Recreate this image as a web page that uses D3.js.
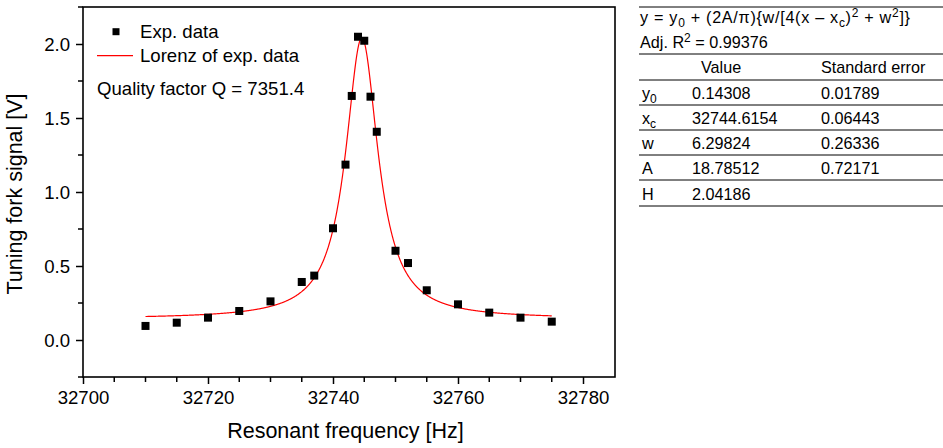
<!DOCTYPE html>
<html><head><meta charset="utf-8">
<script src="https://cdn.jsdelivr.net/npm/d3@7"></script>
<style>
body{margin:0;background:#fff;}
svg{display:block;font-family:"Liberation Sans",Arial,sans-serif;}
</style></head>
<body>
<svg id="chart" width="943" height="448"></svg>
<script>
// ---- data ----
const freq = [32710,32715,32720,32725,32730,32735,32737,32740,32742,32743,32744,32745,32746,32747,32750,32752,32755,32760,32765,32770,32775];
const signal = [0.095,0.117,0.151,0.196,0.261,0.392,0.435,0.755,1.185,1.649,2.049,2.022,1.644,1.407,0.603,0.520,0.336,0.241,0.185,0.151,0.124];
// fit parameters as printed in the table
const paramNames = ["y0","xc","w","A","H"];
const paramValues = ["0.14308","32744.6154","6.29824","18.78512","2.04186"];
const paramErrors = ["0.01789","0.06443","0.26336","0.72171",""];
const fitY0 = 0.14308, fitXc = 32744.6154, fitW = 6.29824, fitA = 18.78512;
const fitRange = [32710, 32775];
const xTicks = [32700,32720,32740,32760,32780];
const yTicks = [0.0,0.5,1.0,1.5,2.0];

const FONT = "Liberation Sans, Arial, sans-serif";
const svg = d3.select("#chart");
const L=83, R=615, T=7, B=377;
const x = d3.scaleLinear().domain([32700, 32785.12]).range([L,R]);
const y = d3.scaleLinear().domain([-0.25, 2.25]).range([B,T]);

// minor ticks
const xMinor = d3.range(32700, 32785, 5).filter(v => v%20!==0);
const yMinor = d3.range(-0.25, 2.26, 0.25).filter(v => Math.abs(v*2 - Math.round(v*2))>1e-6);

const gx = svg.append("g").attr("transform",`translate(0,${B})`);
gx.call(d3.axisBottom(x).tickValues(xTicks).tickFormat(d3.format("d")).tickSize(7).tickSizeOuter(0))
gx.select(".domain").remove();
gx.selectAll(".tick line").attr("stroke","#000").attr("stroke-width",1.5);
gx.selectAll(".tick text").attr("font-size",18.6).attr("fill","#000").attr("y",27).attr("dy",0).attr("font-family",FONT);
gx.selectAll(".minor").data(xMinor).enter().append("line")
  .attr("x1",d=>x(d)).attr("x2",d=>x(d)).attr("y1",0).attr("y2",5).attr("stroke","#000").attr("stroke-width",1.5);

const gy = svg.append("g").attr("transform",`translate(${L},0)`);
gy.call(d3.axisLeft(y).tickValues(yTicks).tickFormat(d3.format(".1f")).tickSize(7).tickSizeOuter(0));
gy.select(".domain").remove();
gy.selectAll(".tick line").attr("stroke","#000").attr("stroke-width",1.5);
gy.selectAll(".tick text").attr("font-size",18.6).attr("fill","#000").attr("x",-13).attr("dy","0.35em").attr("font-family",FONT);
gy.selectAll(".minor").data(yMinor).enter().append("line")
  .attr("y1",d=>y(d)).attr("y2",d=>y(d)).attr("x1",0).attr("x2",-5).attr("stroke","#000").attr("stroke-width",1.5);

// frame
svg.append("rect").attr("x",L).attr("y",T).attr("width",R-L).attr("height",B-T)
  .attr("fill","none").attr("stroke","#000").attr("stroke-width",1.6);

// fit curve (Lorentz with the printed parameters)
const fitX = d3.range(fitRange[0], fitRange[1]+0.001, 0.05);
const lor = v => fitY0 + (2*fitA/Math.PI)*(fitW/(4*(v-fitXc)**2 + fitW**2));
svg.append("path").datum(fitX)
  .attr("d", d3.line().x(d=>x(d)).y(d=>y(lor(d))))
  .attr("fill","none").attr("stroke","#ff0000").attr("stroke-width",1.2);

// data markers
const ms = 8;
svg.append("g").selectAll("rect").data(freq).enter().append("rect")
  .attr("x",(d)=>x(d)-ms/2).attr("y",(d,i)=>y(signal[i])-ms/2)
  .attr("width",ms).attr("height",ms).attr("fill","#000");

// legend
const LF = 18.6;
svg.append("rect").attr("x",112.5).attr("y",28.2).attr("width",7).attr("height",7).attr("fill","#000");
svg.append("text").attr("x",140).attr("y",37.5).attr("font-size",LF).text("Exp. data");
svg.append("line").attr("x1",97).attr("x2",133).attr("y1",55.7).attr("y2",55.7).attr("stroke","#ff0000").attr("stroke-width",1.2);
svg.append("text").attr("x",140).attr("y",62).attr("font-size",LF).text("Lorenz of exp. data");
svg.append("text").attr("x",97).attr("y",94.5).attr("font-size",LF).text("Quality factor Q = 7351.4");

// axis titles
svg.append("text").attr("x",345.5).attr("y",438).attr("text-anchor","middle").attr("font-size",21.5).text("Resonant frequency [Hz]");
svg.append("text").attr("transform","translate(21.5,194) rotate(-90)").attr("text-anchor","middle").attr("font-size",21.5).text("Tuning fork signal [V]");

// table
const TF = 16.2, SF = 12;
const tb = svg.append("g").attr("font-size",TF).attr("fill","#000");
const tx0 = 639, tx1 = 943;
[7,54,80,105,130,155,180,206].forEach(yy=>{
  tb.append("line").attr("x1",tx0).attr("x2",tx1).attr("y1",yy).attr("y2",yy).attr("stroke","#000").attr("stroke-width",1);
});
const f = tb.append("text").attr("x",640).attr("y",23).attr("letter-spacing",0.7);
f.append("tspan").text("y = y");
f.append("tspan").attr("dy",4).attr("font-size",SF).text("0");
f.append("tspan").attr("dy",-4).text(" + (2A/\u03c0){w/[4(x \u2013 x");
f.append("tspan").attr("dy",4).attr("font-size",SF).text("c");
f.append("tspan").attr("dy",-4).text(")");
f.append("tspan").attr("dy",-6).attr("font-size",SF).text("2");
f.append("tspan").attr("dy",6).text(" + w");
f.append("tspan").attr("dy",-6).attr("font-size",SF).text("2");
f.append("tspan").attr("dy",6).text("]}");
const a = tb.append("text").attr("x",640).attr("y",48);
a.append("tspan").text("Adj. R");
a.append("tspan").attr("dy",-6).attr("font-size",SF).text("2");
a.append("tspan").attr("dy",6).text(" = 0.99376");
tb.append("text").attr("x",701).attr("y",73).text("Value");
tb.append("text").attr("x",821).attr("y",73).text("Standard error");
const rowY = [99,124,149,174,200];
paramNames.forEach((n,i)=>{
  const t = tb.append("text").attr("x",642).attr("y",rowY[i]);
  if (n==="y0"||n==="xc") {
    t.append("tspan").text(n[0]);
    t.append("tspan").attr("dy",4).attr("font-size",SF).text(n[1]);
  } else t.text(n);
  tb.append("text").attr("x",692).attr("y",rowY[i]).text(paramValues[i]);
  tb.append("text").attr("x",821).attr("y",rowY[i]).text(paramErrors[i]);
});
</script>
</body></html>
